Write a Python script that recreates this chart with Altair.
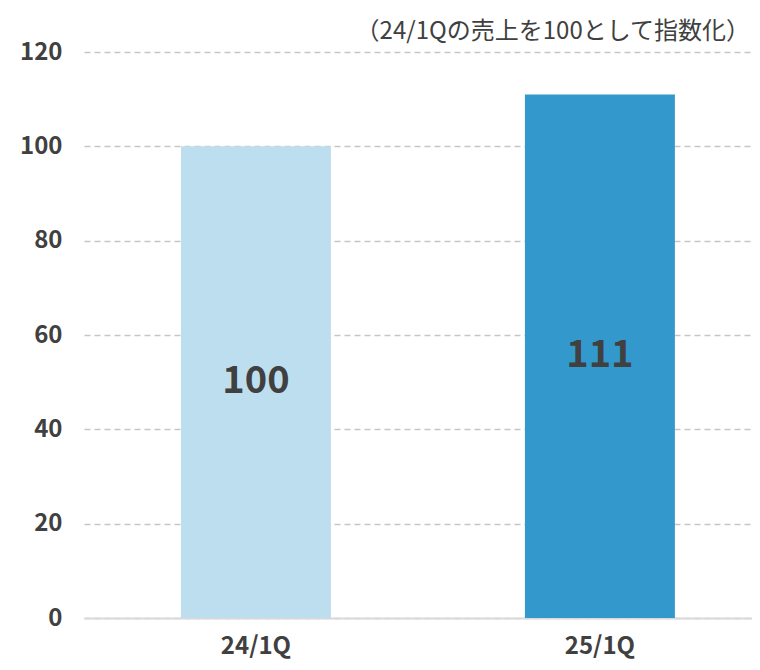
import altair as alt
import pandas as pd

categories = ["24/1Q", "25/1Q"]
values = [100, 111]
bar_colors = ["#BDDEEE", "#3399CC"]
y_ticks = [0, 20, 40, 60, 80, 100, 120]
note = "（24/1Qの売上を100として指数化）"

FONT = "Noto Sans CJK JP"
TEXT = "#404040"
W, H = 668, 566

df = pd.DataFrame({"cat": categories, "val": values})

x_enc = alt.X(
    "cat:N",
    sort=categories,
    scale=alt.Scale(paddingInner=0.564, paddingOuter=0.253, align=0.557),
    axis=alt.Axis(
        title=None, labelAngle=0, ticks=False, labelFontSize=24, labelFontWeight="bold",
        labelColor=TEXT, labelFont=FONT, labelPadding=16, domainColor="#D9D9D9",
        domainWidth=2, grid=False,
    ),
)

bars = alt.Chart(df).mark_bar().encode(
    x=x_enc,
    y=alt.Y(
        "val:Q",
        scale=alt.Scale(domain=[0, 120], nice=False),
        axis=alt.Axis(
            title=None, values=y_ticks, ticks=False, domain=False, labelFontSize=24,
            labelFontWeight="bold", labelColor=TEXT, labelFont=FONT, labelPadding=22,
            gridDash=[6, 4], gridColor="#C6C6C6", gridWidth=1.5,
        ),
    ),
    color=alt.Color("cat:N", scale=alt.Scale(domain=categories, range=bar_colors), legend=None),
)

labels = alt.Chart(df).transform_calculate(mid="datum.val / 2").mark_text(
    font=FONT, fontSize=38, fontWeight="bold", color=TEXT, baseline="middle", align="center"
).encode(
    x=alt.X("cat:N", sort=categories),
    y=alt.Y("mid:Q"),
    text=alt.Text("val:Q"),
)

note_df = pd.DataFrame({"t": [note]})
note_mark = alt.Chart(note_df).mark_text(
    font=FONT, fontSize=24, color=TEXT, align="right", baseline="middle"
).encode(
    x=alt.value(W - 2),
    y=alt.value(-20),
    text="t:N",
)

chart = (
    alt.layer(bars, labels, note_mark)
    .properties(
        width=W,
        height=H,
        autosize=alt.AutoSizeParams(type="none"),
        padding={"left": 76, "top": 44, "right": 0, "bottom": 44},
    )
    .configure_view(stroke=None)
)

chart.save("out.html", embed_options={"renderer": "svg", "actions": False})
